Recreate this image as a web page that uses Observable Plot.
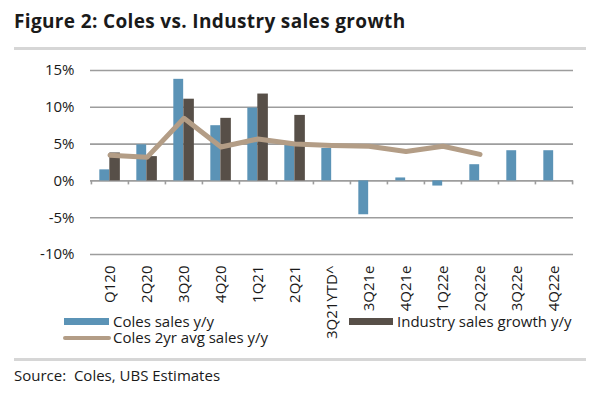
<!DOCTYPE html>
<html>
<head>
<meta charset="utf-8">
<script src="https://cdn.jsdelivr.net/npm/d3@7"></script>
<script src="https://cdn.jsdelivr.net/npm/@observablehq/plot@0.6"></script>
<style>
  html, body { margin: 0; padding: 0; background: #fff; }
  #wrap { position: relative; width: 596px; height: 398px; overflow: hidden; font-family: "Open Sans", sans-serif; color: #1a1a1a; }
  #wrap svg { position: absolute; left: 0; top: 0; }
  .abs { position: absolute; white-space: pre; }
  .title { left: 14px; top: 6px; font-size: 19px; font-weight: bold; letter-spacing: 0.35px; line-height: 30px; }
  .rule { left: 14px; width: 572px; height: 3px; background: #d6d6d6; }
  .lg { font-size: 15px; line-height: 15px; }
  .sw { position: absolute; }
  .src { left: 14px; top: 366px; font-size: 15px; line-height: 18px; }
</style>
</head>
<body>
<div id="wrap"></div>
<script>
const categories = ["Q120","2Q20","3Q20","4Q20","1Q21","2Q21","3Q21YTD^","3Q21e","4Q21e","1Q22e","2Q22e","3Q22e","4Q22e"];
const colesSales = [1.5, 4.9, 13.8, 7.5, 9.9, 5.0, 4.4, -4.6, 0.4, -0.7, 2.2, 4.1, 4.1];
const industrySales = [3.8, 3.3, 11.1, 8.5, 11.8, 8.9, null, null, null, null, null, null, null];
const coles2yrAvg = [3.5, 3.2, 8.5, 4.6, 5.7, 5.0, 4.8, 4.7, 4.0, 4.7, 3.6, null, null];
const yTicks = [-10, -5, 0, 5, 10, 15];

const seriesNames = ["Coles sales y/y", "Industry sales growth y/y", "Coles 2yr avg sales y/y"];
const colors = ["#5b93b6", "#574f48", "#b39d86"];

const blueData = categories.map((c, i) => ({cat: c, v: colesSales[i]}));
const darkData = categories.map((c, i) => ({cat: c, v: industrySales[i]})).filter(d => d.v != null);
const lineData = categories.map((c, i) => ({cat: c, v: coles2yrAvg[i]})).filter(d => d.v != null);

const W = 596, H = 398, mL = 90, mR = 23, mT = 70, mB = 144;
const bw = (W - mL - mR) / categories.length;

const chart = Plot.plot({
  width: W, height: H,
  marginLeft: mL, marginRight: mR, marginTop: mT, marginBottom: mB,
  style: {fontFamily: "Open Sans, sans-serif", fontSize: "15px", color: "#1a1a1a", background: "transparent"},
  x: {domain: categories, padding: 0, label: null},
  y: {domain: [-10, 15], label: null},
  marks: [
    Plot.ruleY(yTicks, {stroke: "#9d9d9d", strokeWidth: 1.6}),
    Plot.barY(blueData, {x: "cat", y: "v", fill: colors[0], insetLeft: bw*0.224, insetRight: bw*0.507}),
    Plot.barY(darkData, {x: "cat", y: "v", fill: colors[1], insetLeft: bw*0.493, insetRight: bw*0.219}),
    Plot.ruleX(categories, {x: d => d, y1: 0, y2: 0, insetBottom: -4, dx: -bw/2, stroke: "#9d9d9d", strokeWidth: 1.6}),
    Plot.ruleX(categories.slice(-1), {x: d => d, y1: 0, y2: 0, insetBottom: -4, dx: bw/2, stroke: "#9d9d9d", strokeWidth: 1.6}),
    Plot.line(lineData, {x: "cat", y: "v", stroke: colors[2], strokeWidth: 5, strokeLinejoin: "round", strokeLinecap: "round"}),
    Plot.axisY({ticks: yTicks, tickSize: 0, tickPadding: 16, tickFormat: d => d + "%"}),
    Plot.axisX({tickSize: 0, tickRotate: -90, tickPadding: 11})
  ]
});

const wrap = document.getElementById("wrap");
wrap.appendChild(chart);

function addDiv(cls, text, style) {
  const d = document.createElement("div");
  d.className = "abs " + cls;
  if (text != null) d.textContent = text;
  Object.assign(d.style, style || {});
  wrap.appendChild(d);
  return d;
}
addDiv("title", "Figure 2: Coles vs. Industry sales growth");
addDiv("rule", null, {top: "47px"});
addDiv("rule", null, {top: "358px"});
// legend
addDiv("sw", null, {left: "64px", top: "318px", width: "45px", height: "7px", background: colors[0]});
addDiv("lg", seriesNames[0], {left: "113px", top: "314px"});
addDiv("sw", null, {left: "349px", top: "318px", width: "44px", height: "7px", background: colors[1]});
addDiv("lg", seriesNames[1], {left: "397px", top: "314px"});
addDiv("sw", null, {left: "63px", top: "335.5px", width: "48px", height: "4.5px", background: colors[2], borderRadius: "3px"});
addDiv("lg", seriesNames[2], {left: "113px", top: "330px"});
addDiv("src", "Source:  Coles, UBS Estimates");
</script>
</body>
</html>
